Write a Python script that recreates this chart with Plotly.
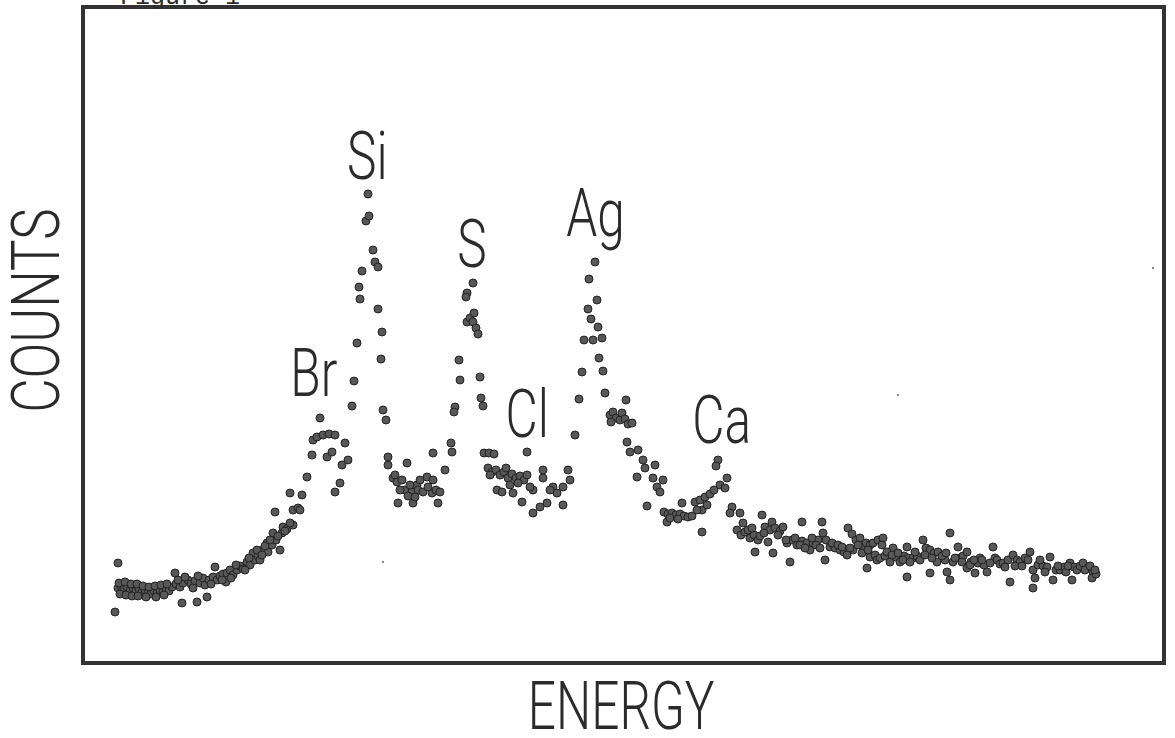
import plotly.graph_objects as go

# Spectrum readings: energy channel and detector counts for each point
energy = [
    32, 35, 35, 38, 41, 44, 47, 50, 53, 56, 59, 62, 65, 68, 71, 74, 77, 80, 83, 86,
    89, 93, 92, 97, 100, 105, 99, 114, 124, 108, 112, 117, 120, 122, 126, 130, 132, 134, 137, 140,
    144, 143, 147, 150, 154, 157, 160, 164, 167, 170, 172, 175, 177, 180, 184, 185, 189, 190, 193, 197,
    199, 200, 204, 210, 207, 192, 207, 210, 215, 217, 219, 224, 229, 230, 234, 240, 246, 252, 237, 244,
    249, 259, 265, 262, 257, 252, 269, 271, 274, 277, 276, 279, 283, 286, 285, 290, 292, 295, 295, 299,
    298, 300, 303,
    36, 42, 48, 54, 60, 66, 72, 78, 84, 37, 43, 49, 55, 63, 73, 81,
    95, 102, 110, 115, 128, 139, 148, 153, 162, 166, 174, 179, 182, 187, 195, 202,
    305, 305, 310, 315, 312, 314, 324, 322, 329, 334, 330, 317, 325, 335, 340, 344, 350, 349, 353, 357,
    355, 362, 350, 369, 368, 372, 371, 377, 376, 397, 398, 400,
    319, 327, 337, 345, 332,
    390, 384, 383, 384, 387, 391, 390, 393, 395,
    401, 406, 411, 405, 409, 413, 417, 421, 425, 429, 433, 437, 441, 444, 414, 419, 430, 439, 444, 450,
    460, 460, 470, 474, 480, 485, 487, 480, 464, 457, 450, 447, 467,
    407, 423, 435, 427,
    492, 496, 499, 501, 505, 506, 512, 514, 508, 510, 515, 519, 516, 520, 522, 543, 527, 530, 533, 537,
    539, 542, 545, 528, 549, 544, 547, 555, 560, 562, 554, 572, 570, 580, 574, 577, 564,
    581, 585, 589, 593, 597, 601, 605, 599, 584, 612, 617, 622, 627, 631, 619, 635, 633, 644, 619,
    587, 595, 609, 614, 624, 637, 642,
    649, 647, 657, 660, 654, 658, 662, 667, 671, 675, 679, 689, 682, 687, 692, 697, 700, 685, 672, 690,
    707, 704, 709, 714, 719, 724, 719, 739, 727, 730, 735, 740, 743, 747, 742, 752, 757, 761, 764, 765,
    769, 773, 777, 780, 770, 783, 787, 790, 795, 800, 787, 792, 794, 797, 784, 802, 807, 810, 813, 817,
    821, 825, 830, 824, 834, 837, 840, 843, 847, 851, 855, 854, 824, 847, 867, 862, 864, 867, 870, 875,
    877, 880, 884, 884, 888, 892, 895, 897, 901, 904, 910, 912, 914, 917, 920, 927, 925, 930, 934, 937,
    942, 947, 950, 952, 950, 955, 960, 964, 967, 970, 973, 977, 981, 987, 991, 994, 989, 997, 1000, 1005,
    1010, 1009, 1013,
    665, 669, 677, 681, 695, 703, 712, 717, 722, 729, 733, 737, 749, 755, 759, 767, 775, 779, 785, 799,
    804, 809, 815, 820, 827, 832, 842, 849, 859, 863, 872, 879, 887, 891, 899, 907, 922, 932, 939, 945,
    957, 962, 975, 983, 985, 1002, 1007, 1012,
]
counts = [
    51, 100, 75, 77, 74, 76, 73, 75, 72, 74, 71, 73, 70, 69, 72, 70, 73, 71, 74, 72,
    76, 79, 90, 76, 80, 83, 60, 61, 66, 79, 82, 80, 85, 78, 83, 86, 96, 83, 87, 89,
    90, 81, 93, 88, 93, 97, 94, 101, 98, 110, 103, 107, 103, 113, 120, 111, 118, 130, 123, 113,
    130, 136, 134, 138, 140, 151, 170, 153, 155, 153, 168, 186, 208, 223, 226, 228, 229, 228, 245, 206,
    211, 198, 203, 220, 180, 171, 257, 282, 320, 364, 376, 392, 442, 447, 469, 413, 401, 396, 354, 331,
    304, 253, 243,
    80, 81, 79, 79, 77, 76, 77, 78, 79, 69, 68, 67, 67, 66, 66, 68,
    83, 86, 75, 87, 79, 83, 85, 98, 93, 105, 113, 108, 117, 123, 127, 132,
    206, 198, 185, 160, 188, 181, 200, 173, 171, 178, 160, 173, 167, 173, 171, 186, 183, 170, 173, 171,
    160, 193, 210, 211, 220, 256, 251, 283, 303, 286, 265, 257,
    183, 178, 183, 176, 166,
    380, 370, 366, 341, 345, 350, 341, 335, 329,
    210, 210, 209, 195, 191, 193, 188, 191, 185, 189, 185, 187, 183, 188, 173, 171, 170, 161, 211, 173,
    193, 185, 176, 170, 176, 193, 183, 158, 160, 156, 150, 176, 173,
    188, 195, 180, 178,
    228, 264, 291, 323, 354, 384, 401, 363, 344, 323, 336, 325, 305, 292, 270, 263, 248, 251, 245, 243,
    250, 244, 239, 241, 240, 221, 211, 213, 203, 195, 186, 198, 185, 183, 176, 171, 157,
    151, 149, 150, 148, 149, 147, 146, 160, 141, 161, 163, 166, 169, 173, 153, 203, 197, 185, 131,
    145, 144, 147, 153, 158, 178, 175,
    156, 150, 150, 140, 133, 128, 131, 125, 128, 123, 148, 141, 136, 133, 135, 132, 136, 121, 111, 110,
    101, 120, 123, 118, 122, 120, 141, 141, 113, 120, 123, 130, 123, 116, 103, 115, 113, 111, 108, 135,
    129, 123, 125, 116, 113, 120, 118, 120, 123, 125, 106, 108, 103, 105, 95, 107, 101, 115, 106, 101,
    107, 105, 105, 116, 107, 103, 123, 115, 113, 110, 111, 101, 86, 90, 130, 103, 91, 83, 101, 116,
    105, 107, 111, 95, 101, 90, 100, 105, 98, 91, 116, 105, 103, 99, 100, 81, 103, 108, 103, 101,
    105, 111, 93, 85, 75, 98, 97, 96, 106, 83, 93, 93, 96, 100, 96, 93, 83, 97, 100, 95,
    91, 85, 89,
    133, 135, 127, 130, 128, 123, 125, 118, 115, 125, 118, 115, 120, 118, 116, 115, 118, 110, 113, 118,
    111, 108, 110, 103, 101, 111, 108, 105, 107, 110, 105, 101, 98, 103, 103, 100, 96, 97, 97, 103,
    103, 91, 97, 91, 97, 93, 97, 93,
]

# Stray specks on the sheet
speck_energy = [300, 815, 1070]
speck_counts = [101, 268, 395]

# Element lines marked above their peaks
peak_names = ["Br", "Si", "S", "Cl", "Ag", "Ca"]
peak_energy = [231, 284, 389, 444, 512, 638]
peak_label_counts = [290, 507, 419, 249, 450, 243]

LETTERING = dict(family="Roboto, sans-serif", size=67, color="#2b2b2b", weight=300)

fig = go.Figure()
fig.add_trace(go.Scatter(
    x=energy, y=counts, mode="markers",
    marker=dict(size=8, color="#585858", line=dict(color="#222222", width=1)),
    hoverinfo="skip", showlegend=False,
))
fig.add_trace(go.Scatter(
    x=speck_energy, y=speck_counts, mode="markers",
    marker=dict(size=2, color="#666666"),
    hoverinfo="skip", showlegend=False,
))

annotations = []
for name, ex, cy in zip(peak_names, peak_energy, peak_label_counts):
    annotations.append(dict(
        x=ex, y=cy, xref="x", yref="y", text=name, showarrow=False,
        xanchor="center", yanchor="middle", font=LETTERING,
    ))

annotations += [
    dict(x=0.4977, y=-0.0655, xref="paper", yref="paper", text="ENERGY",
         showarrow=False, xanchor="center", yanchor="middle", font=LETTERING),
    dict(x=-0.0435, y=0.538, xref="paper", yref="paper", text="COUNTS",
         showarrow=False, xanchor="center", yanchor="middle", textangle=-90,
         font=LETTERING),
    dict(x=0.0324, y=0.990, xref="paper", yref="paper", text="Figure 1",
         showarrow=False, xanchor="left", yanchor="bottom",
         font=dict(family="Liberation Mono, monospace", size=25, color="#2b2b2b")),
]

fig.update_layout(
    width=1175, height=738,
    margin=dict(l=83, r=11, t=7, b=75),
    paper_bgcolor="white", plot_bgcolor="white",
    xaxis=dict(range=[0, 1081], showgrid=False, zeroline=False, showticklabels=False, ticks=""),
    yaxis=dict(range=[0, 656], showgrid=False, zeroline=False, showticklabels=False, ticks=""),
    annotations=annotations,
    shapes=[dict(type="rect", xref="paper", yref="paper", x0=0, y0=0, x1=1, y1=1,
                 line=dict(color="#333333", width=4))],
)

# Narrow the stencil-style lettering horizontally (the typeface has no condensed cut)
condense_js = """
(function(){
  var gd = document.getElementById('{plot_id}');
  function condense(){
    gd.querySelectorAll('g.annotation text.annotation-text').forEach(function(t){
      var s = t.textContent;
      if (s.indexOf('Figure') === 0) return;
      var k = (s === 'COUNTS') ? 0.79 : 0.74;
      t.style.transformBox = 'fill-box';
      t.style.transformOrigin = 'center';
      t.style.transform = 'scaleX(' + k + ')';
    });
  }
  condense();
  gd.on('plotly_afterplot', condense);
})();
"""

fig.write_html("out.html", post_script=condense_js)
